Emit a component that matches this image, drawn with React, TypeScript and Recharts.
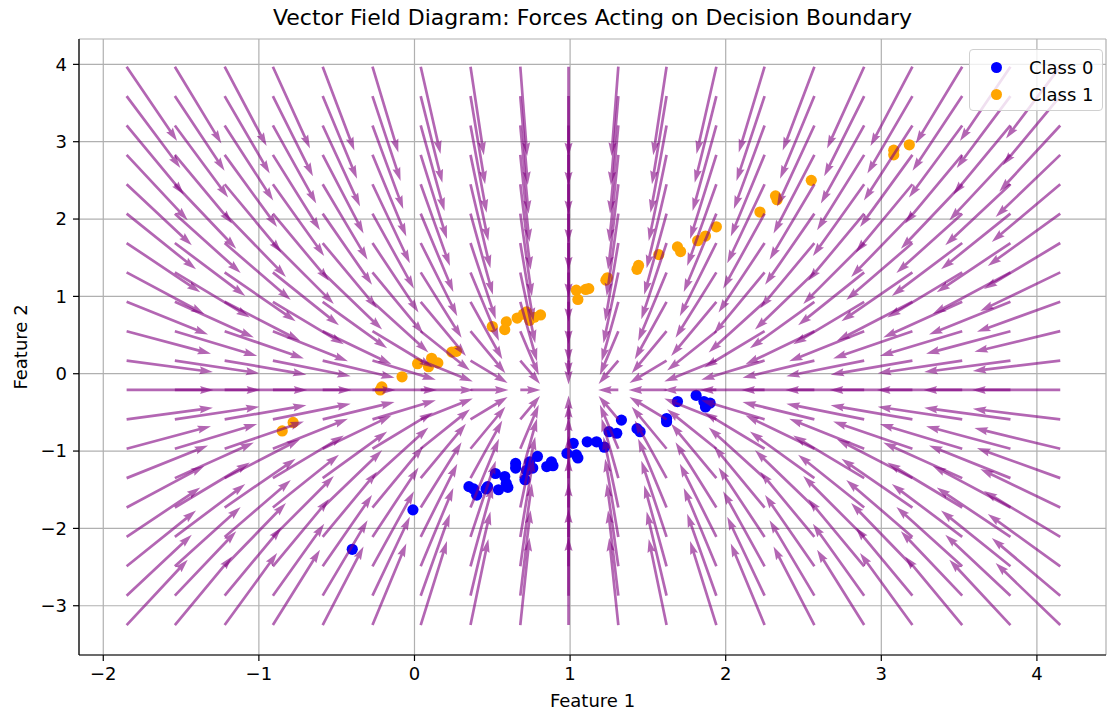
import { ScatterChart, Scatter, XAxis, YAxis, CartesianGrid } from 'recharts'

// quiver tails (20 x 20 grid)
const gridX = [-1.85, -1.54, -1.22, -0.91, -0.59, -0.27, 0.04, 0.36, 0.68, 0.99, 1.31, 1.62, 1.94, 2.25, 2.57, 2.89, 3.2, 3.52, 3.83, 4.15]
const gridY = [-3.25, -2.87, -2.49, -2.11, -1.73, -1.35, -0.97, -0.59, -0.21, 0.17, 0.55, 0.93, 1.31, 1.69, 2.07, 2.45, 2.83, 3.21, 3.59, 3.97]
// force components: per column (x pull) and per row (y pull)
const pullX = [2.84, 2.53, 2.21, 1.9, 1.58, 1.26, 0.95, 0.63, 0.32, 0, -0.32, -0.63, -0.95, -1.26, -1.58, -1.9, -2.21, -2.53, -2.84, -3.16]
const pullY = [3.04, 2.66, 2.28, 1.9, 1.52, 1.14, 0.76, 0.38, 0, -0.38, -0.76, -1.14, -1.52, -1.9, -2.28, -2.66, -3.04, -3.42, -3.8, -4.18]

// Class 0 (blue)
const class0X = [-0.4, -0.01, 0.35, 0.38, 0.4, 0.46, 0.47, 0.52, 0.54, 0.58, 0.59, 0.6, 0.65, 0.65, 0.71, 0.72, 0.74, 0.76, 0.79, 0.85, 0.88, 0.89, 0.98, 1.02, 1.04, 1.05, 1.11, 1.17, 1.22, 1.25, 1.3, 1.33, 1.43, 1.45, 1.62, 1.62, 1.69, 1.81, 1.86, 1.87, 1.9]
const class0Y = [-2.27, -1.76, -1.46, -1.49, -1.57, -1.49, -1.46, -1.29, -1.5, -1.33, -1.42, -1.47, -1.16, -1.22, -1.37, -1.25, -1.14, -1.22, -1.07, -1.2, -1.14, -1.19, -1.03, -0.9, -1.05, -1.09, -0.88, -0.88, -0.95, -0.75, -0.77, -0.6, -0.71, -0.75, -0.58, -0.62, -0.36, -0.28, -0.36, -0.43, -0.38]

// Class 1 (orange)
const class1X = [-0.85, -0.78, -0.21, -0.22, -0.08, 0.02, 0.09, 0.11, 0.15, 0.24, 0.27, 0.5, 0.58, 0.59, 0.66, 0.72, 0.74, 0.7, 0.81, 0.77, 1.04, 1.05, 1.1, 1.12, 1.23, 1.24, 1.43, 1.44, 1.57, 1.69, 1.71, 1.82, 1.87, 1.94, 2.22, 2.32, 2.33, 2.55, 3.08, 3.08, 3.18]
const class1Y = [-0.74, -0.63, -0.17, -0.21, -0.04, 0.13, 0.09, 0.2, 0.14, 0.28, 0.29, 0.61, 0.57, 0.67, 0.72, 0.8, 0.69, 0.77, 0.76, 0.73, 1.08, 0.96, 1.09, 1.1, 1.21, 1.24, 1.35, 1.4, 1.54, 1.64, 1.58, 1.72, 1.78, 1.9, 2.09, 2.3, 2.25, 2.5, 2.89, 2.83, 2.96]

const xTicks = [-2, -1, 0, 1, 2, 3, 4]
const yTicks = [-3, -2, -1, 0, 1, 2, 3, 4]

const field = gridY.flatMap((y, j) =>
  gridX.map((x, i) => ({ x, y, u: pullX[i], v: pullY[j] }))
)
const pts0 = class0X.map((x, i) => ({ x, y: class0Y[i] }))
const pts1 = class1X.map((x, i) => ({ x, y: class1Y[i] }))

const fmt = (v: number) => (v < 0 ? '\u2212' + Math.abs(v) : String(v))

// quiver-like arrow, screen direction = (u, v) like matplotlib angles='uv'
const Arrow = (props: any) => {
  const { cx, cy, payload } = props
  const mag = Math.hypot(payload.u, payload.v)
  if (!mag || cx == null) return <g />
  const len = 90 * Math.tanh(mag / 1.4)
  const dx = payload.u / mag
  const dy = -payload.v / mag
  let w = 2.7
  let hl = 13.5
  let hal = 12.15
  let hw = 4.05
  if (len < hl) {
    const s = len / hl
    w *= s
    hl *= s
    hal *= s
    hw *= s
  }
  const shape = [
    [0, -w / 2],
    [len - hal, -w / 2],
    [len - hl, -hw],
    [len, 0],
    [len - hl, hw],
    [len - hal, w / 2],
    [0, w / 2],
  ]
  const d = shape
    .map(([a, b]) => `${(cx + a * dx - b * dy).toFixed(2)},${(cy + a * dy + b * dx).toFixed(2)}`)
    .join(' ')
  return <polygon points={d} fill='#800080' fillOpacity={0.6} />
}

const Dot = (color: string) => (props: any) =>
  props.cx == null ? <g /> : <circle cx={props.cx} cy={props.cy} r={5.6} fill={color} />

const tickStyle = { fill: '#000', fontSize: 18 }

export default function App() {
  return (
    <div
      style={{
        position: 'absolute',
        left: 0,
        top: 0,
        width: 1108,
        height: 717,
        background: '#fff',
        fontFamily: '"DejaVu Sans", sans-serif',
      }}
    >
      <ScatterChart width={1108} height={717} margin={{ top: 39, right: 2, bottom: 0, left: 0 }}>
        <XAxis
          type='number'
          dataKey='x'
          domain={[-2.156, 4.444]}
          allowDataOverflow
          ticks={xTicks}
          interval={0}
          tickFormatter={fmt}
          height={62}
          tick={tickStyle}
          tickSize={6}
          tickMargin={6}
          tickLine={{ stroke: '#000', strokeWidth: 1.2 }}
          axisLine={{ stroke: '#000', strokeWidth: 1.2 }}
        />
        <YAxis
          type='number'
          dataKey='y'
          domain={[-3.637, 4.328]}
          allowDataOverflow
          ticks={yTicks}
          interval={0}
          tickFormatter={fmt}
          width={79}
          tick={tickStyle}
          tickSize={6}
          tickMargin={6}
          tickLine={{ stroke: '#000', strokeWidth: 1.2 }}
          axisLine={{ stroke: '#000', strokeWidth: 1.2 }}
        />
        <XAxis
          xAxisId='top'
          orientation='top'
          type='number'
          domain={[-2.156, 4.444]}
          height={0}
          tick={false}
          tickLine={false}
          axisLine={{ stroke: '#000', strokeWidth: 1.2 }}
        />
        <YAxis
          yAxisId='right'
          orientation='right'
          type='number'
          domain={[-3.637, 4.328]}
          width={0}
          tick={false}
          tickLine={false}
          axisLine={{ stroke: '#000', strokeWidth: 1.2 }}
        />
        <Scatter data={pts0} shape={Dot('#0000ff')} isAnimationActive={false} />
        <Scatter data={pts1} shape={Dot('#ffa500')} isAnimationActive={false} />
        <Scatter data={field} shape={Arrow} isAnimationActive={false} />
        <CartesianGrid stroke='#b0b0b0' strokeWidth={1.2} />
      </ScatterChart>

      <div
        style={{
          position: 'absolute',
          left: 0,
          width: 1185,
          top: 5,
          textAlign: 'center',
          fontSize: 22,
          color: '#000',
        }}
      >
        Vector Field Diagram: Forces Acting on Decision Boundary
      </div>
      <div
        style={{
          position: 'absolute',
          left: 0,
          width: 1185,
          top: 690,
          textAlign: 'center',
          fontSize: 18,
          color: '#000',
        }}
      >
        Feature 1
      </div>
      <div
        style={{
          position: 'absolute',
          left: 20,
          top: 347,
          transform: 'translate(-50%, -50%) rotate(-90deg)',
          fontSize: 18,
          whiteSpace: 'nowrap',
          color: '#000',
        }}
      >
        Feature 2
      </div>

      {/* legend */}
      <div
        style={{
          position: 'absolute',
          left: 969,
          top: 49,
          width: 132,
          height: 60,
          border: '1px solid #d0d0d0',
          borderRadius: 4,
          background: 'rgba(255,255,255,0.8)',
          fontSize: 18,
          color: '#000',
          whiteSpace: 'nowrap',
        }}
      >
        {[
          { label: 'Class 0', color: '#0000ff' },
          { label: 'Class 1', color: '#ffa500' },
        ].map((item, i) => (
          <div
            key={item.label}
            style={{ position: 'absolute', left: 0, top: 4 + i * 27, height: 26, display: 'flex', alignItems: 'center' }}
          >
            <span
              style={{
                display: 'inline-block',
                width: 11,
                height: 11,
                borderRadius: '50%',
                background: item.color,
                marginLeft: 21,
                marginRight: 27,
                flexShrink: 0,
              }}
            />
            <span>{item.label}</span>
          </div>
        ))}
      </div>
    </div>
  )
}
